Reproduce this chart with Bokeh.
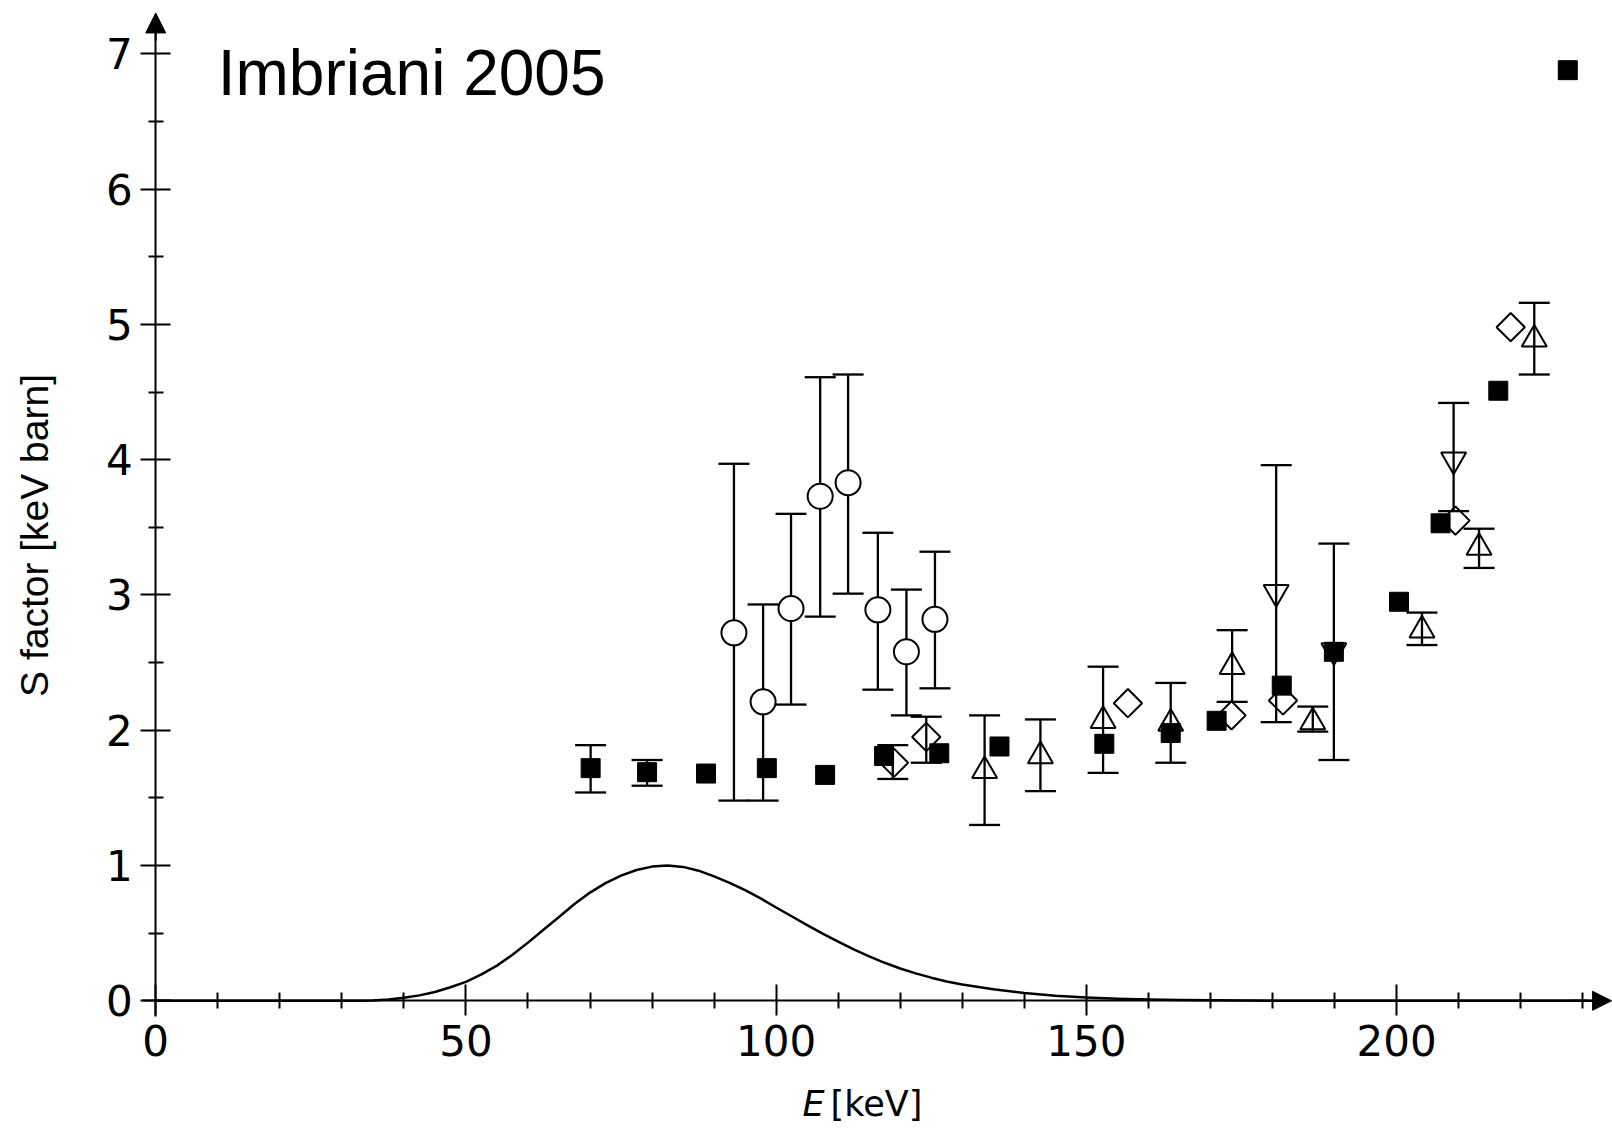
import math
from bokeh.plotting import figure
from bokeh.models import (ColumnDataSource, Whisker, TeeHead, LinearAxis, FixedTicker,
                          Range1d, Label, Arrow, NormalHead)
from bokeh.embed import file_html
from bokeh.resources import INLINE

# Gamow window (normalised to 1), E in keV
curve_e = [0, 10, 20, 30, 32.5, 35, 37.5, 40, 42.5, 45, 47.5, 50, 52.5, 55, 57.5, 60, 62.5,
           65, 67.5, 70, 72.5, 75, 77.5, 80, 82.5, 85, 87.5, 90, 92.5, 95, 97.5, 100, 102.5,
           105, 107.5, 110, 112.5, 115, 117.5, 120, 122.5, 125, 127.5, 130, 135, 140, 145,
           150, 155, 160, 165, 170, 180, 190, 234]
curve_s = [0, 0, 0, 0, 0.001, 0.003, 0.01, 0.022, 0.04, 0.065, 0.1, 0.14, 0.195, 0.26, 0.34,
           0.43, 0.525, 0.62, 0.715, 0.80, 0.87, 0.925, 0.967, 0.992, 1.0, 0.99, 0.962, 0.92,
           0.872, 0.818, 0.757, 0.69, 0.625, 0.56, 0.497, 0.437, 0.38, 0.328, 0.281, 0.239,
           0.203, 0.171, 0.143, 0.12, 0.085, 0.058, 0.038, 0.025, 0.016, 0.01, 0.006, 0.004,
           0.001, 0, 0]

# Filled squares
sq_e = [70.1, 79.2, 88.7, 98.5, 107.9, 117.4, 126.3, 136.0, 152.9, 163.6, 171.0, 181.5,
        189.9, 200.4, 207.1, 216.4, 227.6]
sq_s = [1.72, 1.69, 1.68, 1.72, 1.67, 1.81, 1.83, 1.88, 1.90, 1.98, 2.07, 2.33,
        2.58, 2.95, 3.53, 4.51, 6.88]
sq_bar_e = [70.1, 79.2]
sq_lo = [1.54, 1.59]
sq_hi = [1.89, 1.78]

# Open circles
ci_e = [93.2, 97.9, 102.4, 107.1, 111.6, 116.4, 121.0, 125.6]
ci_s = [2.72, 2.21, 2.90, 3.73, 3.83, 2.89, 2.58, 2.82]
ci_lo = [1.48, 1.48, 2.19, 2.84, 3.01, 2.30, 2.11, 2.31]
ci_hi = [3.97, 2.93, 3.60, 4.61, 4.63, 3.46, 3.04, 3.32]

# Open diamonds
di_e = [119.0, 124.2, 156.7, 173.4, 181.7, 209.5, 218.4]
di_s = [1.76, 1.95, 2.20, 2.11, 2.22, 3.55, 4.98]
di_bar_e = [118.8, 124.2]
di_lo = [1.64, 1.76]
di_hi = [1.89, 2.10]

# Open up-triangles
tu_e = [133.6, 142.6, 152.7, 163.6, 173.5, 186.5, 204.1, 213.3, 222.2]
tu_s = [1.70, 1.81, 2.07, 2.05, 2.47, 2.06, 2.74, 3.35, 4.89]
tu_lo = [1.30, 1.55, 1.685, 1.76, 2.21, 1.99, 2.63, 3.20, 4.63]
tu_hi = [2.11, 2.08, 2.47, 2.35, 2.74, 2.175, 2.87, 3.49, 5.16]

# Open down-triangles
td_e = [180.6, 189.9, 209.2]
td_s = [3.02, 2.59, 4.00]
td_lo = [2.06, 1.78, 3.62]
td_hi = [3.96, 3.38, 4.42]

x_major = [0, 50, 100, 150, 200]
x_minor = [v for v in range(10, 240, 10) if v % 50 != 0]
y_major = [0, 1, 2, 3, 4, 5, 6, 7]
y_minor = [0.5, 1.5, 2.5, 3.5, 4.5, 5.5, 6.5]

W, H = 1612, 1129
p = figure(width=W, height=H, x_range=Range1d(-25.02, 234.81), y_range=Range1d(-0.9515, 7.395),
           x_axis_type=None, y_axis_type=None, min_border=0, toolbar_location=None,
           output_backend="svg", outline_line_color=None)
p.background_fill_color = "white"
p.border_fill_color = "white"

tick_font = "DejaVu Sans"

xaxis = LinearAxis(fixed_location=0, bounds=(-2.2, 231),
                   ticker=FixedTicker(ticks=x_major, minor_ticks=x_minor))
xaxis.axis_line_width = 2
xaxis.major_tick_line_width = 2
xaxis.minor_tick_line_width = 2
xaxis.major_tick_in = 16
xaxis.major_tick_out = 15
xaxis.minor_tick_in = 8
xaxis.minor_tick_out = 8
xaxis.major_label_text_font = tick_font
xaxis.major_label_text_font_size = "42px"
xaxis.major_label_text_color = "black"
xaxis.major_label_standoff = 9
p.add_layout(xaxis, "below")

yaxis = LinearAxis(fixed_location=0, bounds=(-0.116, 7.2),
                   ticker=FixedTicker(ticks=y_major, minor_ticks=y_minor))
yaxis.axis_line_width = 2
yaxis.major_tick_line_width = 2
yaxis.minor_tick_line_width = 2
yaxis.major_tick_in = 15
yaxis.major_tick_out = 15
yaxis.minor_tick_in = 8
yaxis.minor_tick_out = 7
yaxis.major_label_text_font = tick_font
yaxis.major_label_text_font_size = "42px"
yaxis.major_label_text_color = "black"
yaxis.major_label_standoff = 8
p.add_layout(yaxis, "left")

# axis arrow heads
p.add_layout(Arrow(end=NormalHead(size=19, fill_color="black", line_color="black", line_width=1),
                   x_start=228, y_start=0, x_end=234.66, y_end=0, line_width=2))
p.add_layout(Arrow(end=NormalHead(size=20, fill_color="black", line_color="black", line_width=1),
                   x_start=0, y_start=7.1, x_end=0, y_end=7.303, line_width=2))

# Gamow curve
p.line(curve_e, curve_s, line_color="black", line_width=2.5, line_join="round")


def bars(xs, lo, hi):
    src = ColumnDataSource(dict(x=xs, lo=lo, hi=hi))
    w = Whisker(source=src, base="x", lower="lo", upper="hi", dimension="height",
                line_color="black", line_width=2.3, level="underlay",
                upper_head=TeeHead(size=31, line_width=2.3, line_color="black"),
                lower_head=TeeHead(size=31, line_width=2.3, line_color="black"))
    p.add_layout(w)


bars(sq_bar_e, sq_lo, sq_hi)
bars(ci_e, ci_lo, ci_hi)
bars(di_bar_e, di_lo, di_hi)
bars(tu_e, tu_lo, tu_hi)
bars(td_e, td_lo, td_hi)

p.scatter(td_e, td_s, marker="inverted_triangle", size=25, fill_color=None,
          line_color="black", line_width=2)
p.scatter(sq_e, sq_s, marker="square", size=19, fill_color="black",
          line_color="black", line_width=1)
p.scatter(tu_e, tu_s, marker="triangle", size=25, fill_color=None,
          line_color="black", line_width=2)
p.scatter(di_e, di_s, marker="square", angle=math.pi / 4, size=20, fill_color=None,
          line_color="black", line_width=2)
p.scatter(ci_e, ci_s, marker="circle", size=25, fill_color="white",
          line_color="black", line_width=2)

# texts
p.add_layout(Label(x=10.0, y=6.856, text="Imbriani 2005", text_font="Liberation Sans",
                   text_font_size="64px", text_color="black", text_align="left",
                   text_baseline="alphabetic"))
p.add_layout(Label(x=-19.54, y=3.44, text="S factor [keV barn]", text_font="Liberation Sans",
                   text_font_size="39px", text_color="black", angle=math.pi / 2,
                   text_align="center", text_baseline="middle"))
p.add_layout(Label(x=107.8, y=-0.765, text="E", text_font=tick_font, text_font_style="italic",
                   text_font_size="35px", text_color="black", text_align="right",
                   text_baseline="alphabetic"))
p.add_layout(Label(x=108.77, y=-0.765, text="[keV]", text_font=tick_font,
                   text_font_size="35px", text_color="black", text_align="left",
                   text_baseline="alphabetic"))

open("out.html", "w").write(file_html(p, INLINE))
